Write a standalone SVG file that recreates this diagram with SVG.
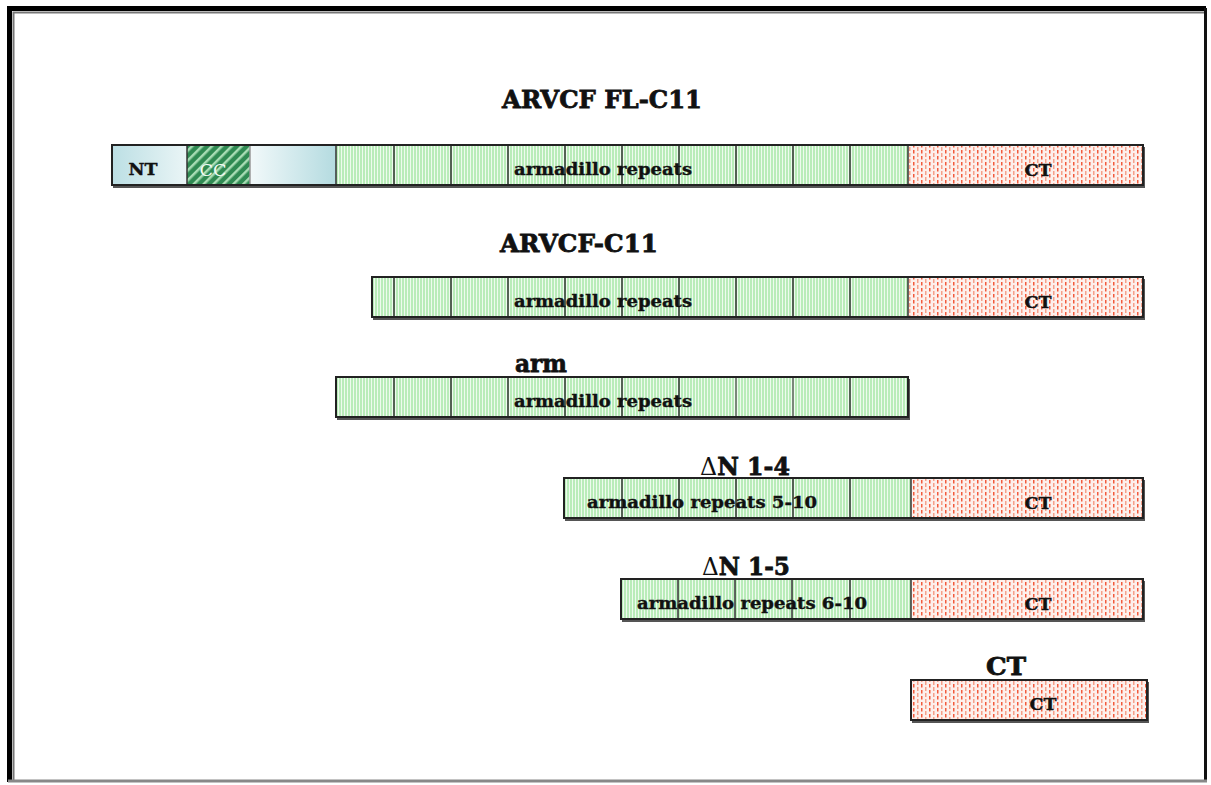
<svg xmlns="http://www.w3.org/2000/svg" width="1211" height="785" viewBox="0 0 1211 785">
<defs>
<pattern id="arm" width="3" height="10" patternUnits="userSpaceOnUse">
<rect width="3" height="10" fill="#eefbee"/>
<rect width="2" height="10" fill="#b9ecb9"/>
</pattern>
<pattern id="ct" width="8" height="6" patternUnits="userSpaceOnUse">
<rect width="8" height="6" fill="#fdf0ec"/>
<rect x="1" y="0" width="1.5" height="3.5" fill="#f25a3c"/>
<rect x="5" y="3" width="1.5" height="3" fill="#f5a08a"/>
<rect x="5" y="0" width="1.5" height="1" fill="#f5a08a"/>
</pattern>
<pattern id="cc" width="7" height="7" patternUnits="userSpaceOnUse" patternTransform="rotate(45)">
<rect width="7" height="7" fill="#2f8a52"/>
<rect width="2.5" height="7" fill="#a8dcb4"/>
</pattern>
<linearGradient id="nt" x1="0" x2="1" y1="0" y2="0">
<stop offset="0" stop-color="#bcdfe4"/>
<stop offset="1" stop-color="#eaf5f6"/>
</linearGradient>
<linearGradient id="lk" x1="0" x2="1" y1="0" y2="0">
<stop offset="0" stop-color="#f2f9fa"/>
<stop offset="1" stop-color="#b4dbe0"/>
</linearGradient>
</defs>
<style>
.title{font-family:"DejaVu Serif","Liberation Serif",serif;font-weight:bold;font-size:25px;fill:#111;stroke:#111;stroke-width:0.8;text-anchor:middle}
.lbl{font-family:"DejaVu Serif","Liberation Serif",serif;font-weight:bold;font-size:17px;fill:#111;stroke:#111;stroke-width:0.4;text-anchor:middle}
.d{font-weight:normal;stroke-width:0}
.shadow{fill:#555}
.box{fill:none;stroke:#222;stroke-width:2}
.div{stroke:#333;stroke-width:1.5}
</style>
<rect x="0" y="0" width="1211" height="785" fill="#fff"/>
<g id="frame">
<path d="M9.5 782 V8.5 H1206" fill="none" stroke="#000" stroke-width="5"/>
<path d="M13.5 780 V12.5 H1204" fill="none" stroke="#777" stroke-width="2"/>
<path d="M1205.5 8 V782" stroke="#111" stroke-width="3"/>
<path d="M8 781 H1207" stroke="#888" stroke-width="3"/>
</g>
<g id="row1">
<text class="title" x="602" y="108" textLength="200" lengthAdjust="spacingAndGlyphs">ARVCF FL-C11</text>
<rect class="shadow" x="113" y="147" width="1032" height="41"/>
<rect x="112" y="145" width="75" height="40" fill="url(#nt)"/>
<rect x="187" y="145" width="63" height="40" fill="url(#cc)"/>
<rect x="250" y="145" width="86" height="40" fill="url(#lk)"/>
<rect x="336" y="145" width="572" height="40" fill="url(#arm)"/>
<rect x="908" y="145" width="235" height="40" fill="url(#ct)"/>
<g class="div">
<line x1="187" y1="145" x2="187" y2="185"/><line x1="250" y1="145" x2="250" y2="185" stroke="#999"/><line x1="336" y1="145" x2="336" y2="185"/>
<line x1="394" y1="145" x2="394" y2="185"/><line x1="451" y1="145" x2="451" y2="185"/><line x1="508" y1="145" x2="508" y2="185"/>
<line x1="565" y1="145" x2="565" y2="185"/><line x1="622" y1="145" x2="622" y2="185"/><line x1="679" y1="145" x2="679" y2="185"/>
<line x1="736" y1="145" x2="736" y2="185"/><line x1="793" y1="145" x2="793" y2="185"/><line x1="850" y1="145" x2="850" y2="185"/>
<line x1="908" y1="145" x2="908" y2="185"/>
</g>
<rect class="box" x="112" y="145" width="1031" height="40"/>
<text class="lbl" x="143" y="175" textLength="29" lengthAdjust="spacingAndGlyphs">NT</text>
<text class="lbl" x="213" y="176" style="fill:#f2faf4;stroke:none;font-weight:normal" textLength="27" lengthAdjust="spacingAndGlyphs">CC</text>
<text class="lbl" x="603" y="175" textLength="178" lengthAdjust="spacingAndGlyphs">armadillo repeats</text>
<text class="lbl" x="1038" y="176" textLength="27" lengthAdjust="spacingAndGlyphs">CT</text>
</g>
<g id="row2">
<text class="title" x="579" y="252" textLength="158" lengthAdjust="spacingAndGlyphs">ARVCF-C11</text>
<rect class="shadow" x="373" y="279" width="772" height="41"/>
<rect x="372" y="277" width="536" height="40" fill="url(#arm)"/>
<rect x="908" y="277" width="235" height="40" fill="url(#ct)"/>
<g class="div">
<line x1="394" y1="277" x2="394" y2="317"/><line x1="451" y1="277" x2="451" y2="317"/><line x1="508" y1="277" x2="508" y2="317"/>
<line x1="565" y1="277" x2="565" y2="317"/><line x1="622" y1="277" x2="622" y2="317"/><line x1="679" y1="277" x2="679" y2="317"/>
<line x1="736" y1="277" x2="736" y2="317"/><line x1="793" y1="277" x2="793" y2="317"/><line x1="850" y1="277" x2="850" y2="317"/>
<line x1="908" y1="277" x2="908" y2="317"/>
</g>
<rect class="box" x="372" y="277" width="771" height="40"/>
<text class="lbl" x="603" y="307" textLength="178" lengthAdjust="spacingAndGlyphs">armadillo repeats</text>
<text class="lbl" x="1038" y="308" textLength="27" lengthAdjust="spacingAndGlyphs">CT</text>
</g>
<g id="row3">
<text class="title" x="541" y="372" textLength="52" lengthAdjust="spacingAndGlyphs">arm</text>
<rect class="shadow" x="337" y="379" width="573" height="41"/>
<rect x="336" y="377" width="572" height="40" fill="url(#arm)"/>
<g class="div">
<line x1="394" y1="377" x2="394" y2="417"/><line x1="451" y1="377" x2="451" y2="417"/><line x1="508" y1="377" x2="508" y2="417"/>
<line x1="565" y1="377" x2="565" y2="417"/><line x1="622" y1="377" x2="622" y2="417"/><line x1="679" y1="377" x2="679" y2="417"/>
<line x1="736" y1="377" x2="736" y2="417" stroke="#666"/><line x1="793" y1="377" x2="793" y2="417" stroke="#666"/><line x1="850" y1="377" x2="850" y2="417"/>
</g>
<rect class="box" x="336" y="377" width="572" height="40"/>
<text class="lbl" x="603" y="407" textLength="178" lengthAdjust="spacingAndGlyphs">armadillo repeats</text>
</g>
<g id="row4">
<text class="title" x="745" y="475" textLength="90" lengthAdjust="spacingAndGlyphs"><tspan class="d">Δ</tspan>N 1-4</text>
<rect class="shadow" x="565" y="480" width="580" height="41"/>
<rect x="564" y="478" width="347" height="40" fill="url(#arm)"/>
<rect x="911" y="478" width="232" height="40" fill="url(#ct)"/>
<g class="div">
<line x1="622" y1="478" x2="622" y2="518"/><line x1="679" y1="478" x2="679" y2="518"/><line x1="736" y1="478" x2="736" y2="518"/>
<line x1="793" y1="478" x2="793" y2="518"/><line x1="850" y1="478" x2="850" y2="518"/><line x1="911" y1="478" x2="911" y2="518"/>
</g>
<rect class="box" x="564" y="478" width="579" height="40"/>
<text class="lbl" x="702" y="508" textLength="230" lengthAdjust="spacingAndGlyphs">armadillo repeats 5-10</text>
<text class="lbl" x="1038" y="509" textLength="27" lengthAdjust="spacingAndGlyphs">CT</text>
</g>
<g id="row5">
<text class="title" x="746" y="575" textLength="88" lengthAdjust="spacingAndGlyphs"><tspan class="d">Δ</tspan>N 1-5</text>
<rect class="shadow" x="622" y="581" width="523" height="41"/>
<rect x="621" y="579" width="290" height="40" fill="url(#arm)"/>
<rect x="911" y="579" width="232" height="40" fill="url(#ct)"/>
<g class="div">
<line x1="678" y1="579" x2="678" y2="619"/><line x1="735" y1="579" x2="735" y2="619"/><line x1="792" y1="579" x2="792" y2="619"/>
<line x1="850" y1="579" x2="850" y2="619"/><line x1="911" y1="579" x2="911" y2="619"/>
</g>
<rect class="box" x="621" y="579" width="522" height="40"/>
<text class="lbl" x="752" y="609" textLength="230" lengthAdjust="spacingAndGlyphs">armadillo repeats 6-10</text>
<text class="lbl" x="1038" y="610" textLength="27" lengthAdjust="spacingAndGlyphs">CT</text>
</g>
<g id="row6">
<text class="title" x="1006" y="675" textLength="40" lengthAdjust="spacingAndGlyphs">CT</text>
<rect class="shadow" x="912" y="682" width="237" height="41"/>
<rect x="911" y="680" width="236" height="40" fill="url(#ct)"/>
<rect class="box" x="911" y="680" width="236" height="40"/>
<text class="lbl" x="1043" y="710" textLength="27" lengthAdjust="spacingAndGlyphs">CT</text>
</g>
</svg>
